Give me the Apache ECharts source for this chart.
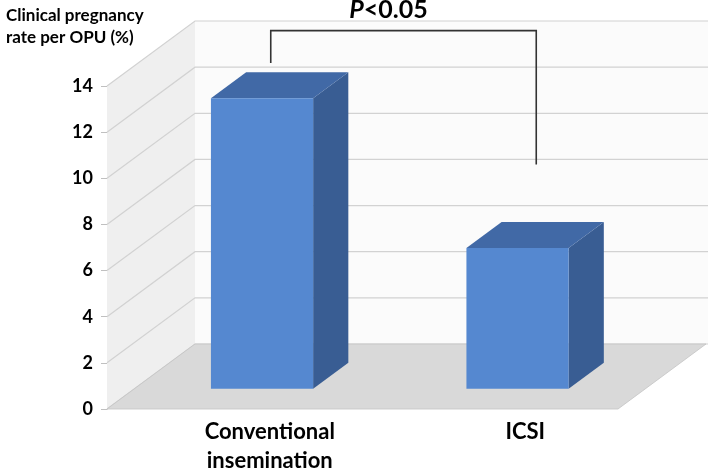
<!DOCTYPE html>
<html>
<head>
<meta charset="utf-8">
<script src="https://cdn.jsdelivr.net/npm/echarts@6/dist/echarts.min.js"></script>
<style>html,body{margin:0;padding:0;background:#fff}#c{width:709px;height:468px}</style>
</head>
<body>
<div id="c"></div>
<script>
// ---- data ----
var categories = ['Conventional\ninsemination', 'ICSI'];
var rates = [12.6, 6.1];
var yTicks = [0, 2, 4, 6, 8, 10, 12, 14];
var yMin = 0, yMax = 14, yStep = 2;
var sigText = 'P<0.05';
// bracket annotation: [category index, value where leg ends], top level
var bracketLeft = [0, 15.0];
var bracketRight = [1, 10.6];
var bracketTopValue = 16.4;

// ---- style (3D oblique projection) ----
var DX = 88, DY = -65;          // full floor depth offset
var BAR_D0 = 0.31, BAR_D = 0.40; // bar front-plane depth and bar depth (fraction)
var BAR_W = 0.40;               // fraction of band
var FONT = 'Lato';

var chart = echarts.init(document.getElementById('c'), null, {renderer: 'canvas'});

function wallsRender(params, api) {
  var cs = params.coordSys;
  var x0 = cs.x, x1 = cs.x + cs.width;
  var yb = api.coord([0, yMin])[1];
  var yt = api.coord([0, yMax])[1];
  var kids = [];
  kids.push({type: 'polygon', shape: {points: [[x0 + DX, yt + DY], [x1 + DX + 2, yt + DY], [x1 + DX + 2, yb + DY], [x0 + DX, yb + DY]]},
    style: {fill: '#fbfbfb'}, silent: true});
  kids.push({type: 'polygon', shape: {points: [[x0, yt], [x0 + DX, yt + DY], [x0 + DX, yb + DY], [x0, yb]]},
    style: {fill: '#efefef'}, silent: true});
  yTicks.forEach(function (v) {
    var y = api.coord([0, v])[1];
    kids.push({type: 'polyline', shape: {points: [[x0, y], [x0 + DX, y + DY], [x1 + DX + 2, y + DY]]},
      style: {stroke: '#d2d2d2', lineWidth: 1.2, fill: null}, silent: true});
  });
  kids.push({type: 'polygon', shape: {points: [[x0, yb], [x1, yb], [x1 + DX, yb + DY], [x0 + DX, yb + DY]]},
    style: {fill: '#d9d9d9', stroke: '#c4c4c4', lineWidth: 0.8}, silent: true});
  return {type: 'group', children: kids};
}

function barRender(params, api) {
  var idx = api.value(0), val = api.value(1);
  var base = api.coord([idx, yMin]);
  var top = api.coord([idx, val]);
  var band = api.size([1, 0])[0];
  var w = band * BAR_W;
  var ox = DX * BAR_D0, oy = DY * BAR_D0;
  var dx = DX * BAR_D, dy = DY * BAR_D;
  var l = base[0] - w / 2 + ox, r = base[0] + w / 2 + ox;
  var b = base[1] + oy, t = top[1] + oy;
  return {type: 'group', children: [
    {type: 'polygon', shape: {points: [[r, b], [r + dx, b + dy], [r + dx, t + dy], [r, t]]}, style: {fill: '#395d93'}},
    {type: 'polygon', shape: {points: [[l, t], [r, t], [r + dx, t + dy], [l + dx, t + dy]]}, style: {fill: '#4169a6'}},
    {type: 'rect', shape: {x: l, y: t, width: r - l, height: b - t}, style: {fill: '#5588d0'}}
  ]};
}

function bracketRender(params, api) {
  var pl = api.coord([bracketLeft[0], bracketLeft[1]]);
  var pr = api.coord([bracketRight[0], bracketRight[1]]);
  var yTop = api.coord([0, bracketTopValue])[1];
  var xl = pl[0] + 36, xr = pr[0] + 46;
  return {type: 'group', children: [
    {type: 'polyline', shape: {points: [[xl, pl[1]], [xl, yTop], [xr, yTop], [xr, pr[1]]]},
      style: {stroke: '#333', lineWidth: 1.6, fill: null}},
    {type: 'text', x: (xl + xr) / 2 - 15, y: 10,
      style: {text: '{i|P}{n|<0.05}', align: 'center', verticalAlign: 'middle',
        rich: {i: {fontFamily: FONT, fontWeight: 'bold', fontStyle: 'italic', fontSize: 25, fill: '#000'},
               n: {fontFamily: FONT, fontWeight: 'bold', fontSize: 25, fill: '#000'}}}}
  ]};
}

chart.setOption({
  animation: false,
  backgroundColor: '#ffffff',
  title: {
    text: 'Clinical pregnancy\nrate per OPU (%)',
    left: 1, top: 0,
    textStyle: {fontFamily: FONT, fontWeight: 'bold', fontSize: 17, lineHeight: 22, color: '#000'}
  },
  grid: {left: 107, right: 91, top: 86, bottom: 59, containLabel: false, outerBoundsMode: 'none'},
  xAxis: {
    type: 'category', data: categories, boundaryGap: true,
    axisLine: {show: false}, axisTick: {show: false}, splitLine: {show: false},
    axisLabel: {
      margin: 8, interval: 0, padding: [0, 0, 0, 70],
      fontFamily: FONT, fontWeight: 'bold', fontSize: 22, lineHeight: 29, color: '#000'
    }
  },
  yAxis: {
    type: 'value', min: yMin, max: yMax, interval: yStep,
    axisLine: {show: true, lineStyle: {color: '#c0c0c0', width: 1}},
    axisTick: {show: true, length: 6, lineStyle: {color: '#c0c0c0'}},
    splitLine: {show: false},
    axisLabel: {margin: 14, fontFamily: FONT, fontWeight: 'bold', fontSize: 18, color: '#000'}
  },
  series: [
    {type: 'custom', renderItem: wallsRender, data: [[0, 0]], z: 1, silent: true, clip: false},
    {type: 'custom', renderItem: barRender, data: rates.map(function (v, i) { return [i, v]; }), z: 3, clip: false,
      encode: {x: 0, y: 1}},
    {type: 'custom', renderItem: bracketRender, data: [[0, 0]], z: 4, silent: true, clip: false}
  ]
});
</script>
</body>
</html>
